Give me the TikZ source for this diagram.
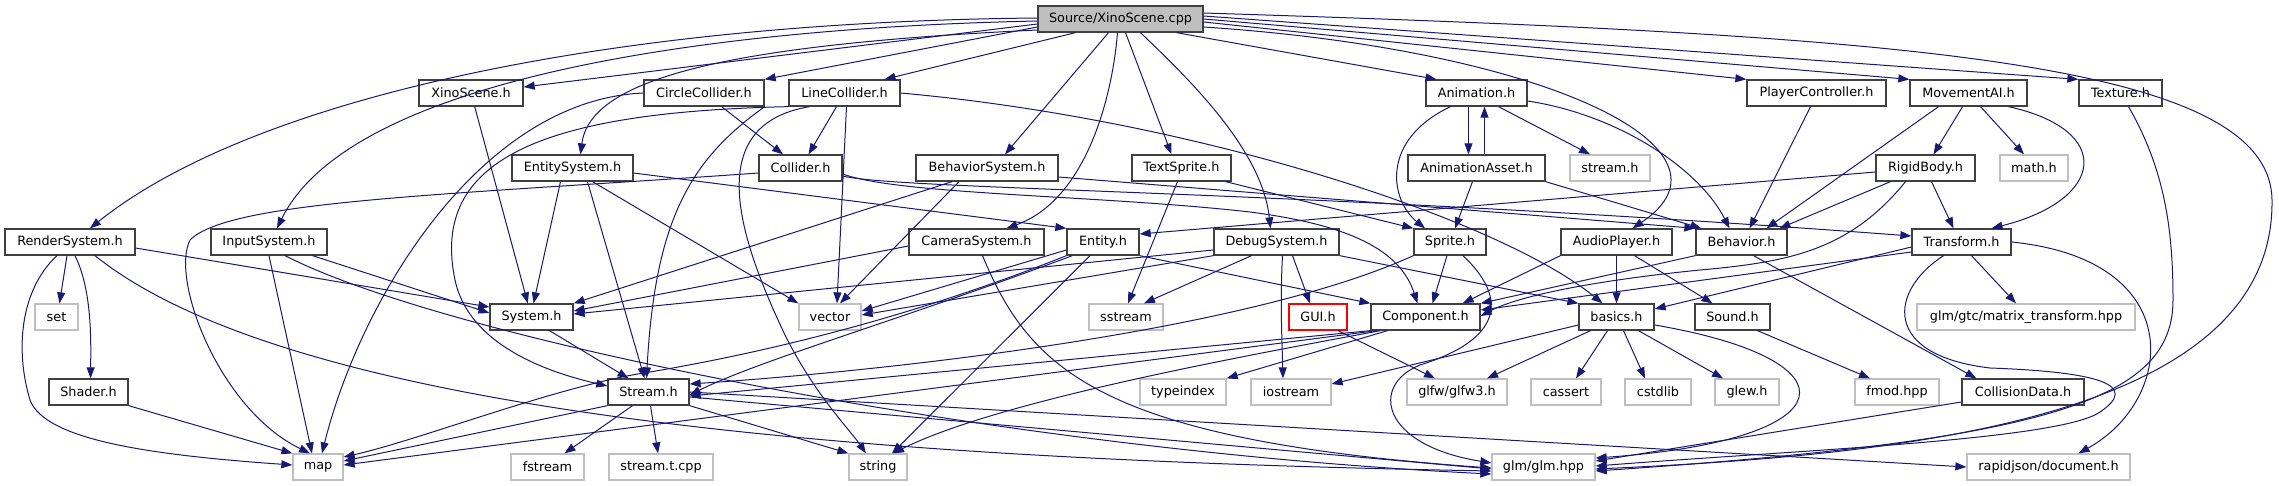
\documentclass[tikz,border=0pt]{standalone}
\usepackage{fontspec}
\setmainfont{DejaVu Sans}
\usetikzlibrary{arrows.meta}
\definecolor{edgec}{HTML}{191970}
\definecolor{nodeb}{HTML}{404040}
\definecolor{extb}{HTML}{BFBFBF}
\begin{document}
\begin{tikzpicture}[x=1pt,y=-1pt,
  nb/.style={draw=nodeb, line width=1.3pt, fill=white, minimum height=26, inner sep=0pt, font=\fontsize{12.8}{15}\selectfont, text=black},
  ext/.style={nb, draw=extb},
  srcn/.style={nb, fill=extb},
  guin/.style={nb, draw=red},
  dep/.style={draw=edgec, line width=1pt, -{Triangle[length=11pt,width=8pt]}}]
\useasboundingbox (0,0) rectangle (2279,485);
% row 0
\node[srcn, minimum width=165] (src) at (1120.5,19) {Source/XinoScene.cpp};
% row 1
\node[nb, minimum width=104] (xino) at (471,93) {XinoScene.h};
\node[nb, minimum width=120] (circ) at (704,93) {CircleCollider.h};
\node[nb, minimum width=111] (line) at (844.5,93) {LineCollider.h};
\node[nb, minimum width=101] (anim) at (1476.5,93) {Animation.h};
\node[nb, minimum width=139] (player) at (1816.5,93) {PlayerController.h};
\node[nb, minimum width=117] (move) at (1968.5,93) {MovementAI.h};
\node[nb, minimum width=83] (tex) at (2120.5,93) {Texture.h};
% row 2
\node[nb, minimum width=121] (entsys) at (572.5,168) {EntitySystem.h};
\node[nb, minimum width=83] (coll) at (800.5,168) {Collider.h};
\node[nb, minimum width=142] (behsys) at (987,168) {BehaviorSystem.h};
\node[nb, minimum width=99] (textsp) at (1181.5,168) {TextSprite.h};
\node[nb, minimum width=137] (animasset) at (1476.5,168) {AnimationAsset.h};
\node[ext, minimum width=80] (streamh) at (1610,168) {stream.h};
\node[nb, minimum width=99] (rigid) at (1925.5,168) {RigidBody.h};
\node[ext, minimum width=68] (math) at (2034,168) {math.h};
% row 3
\node[nb, minimum width=130] (render) at (70,242) {RenderSystem.h};
\node[nb, minimum width=116] (input) at (269,242) {InputSystem.h};
\node[nb, minimum width=135] (camsys) at (976.5,242) {CameraSystem.h};
\node[nb, minimum width=72] (entity) at (1103,242) {Entity.h};
\node[nb, minimum width=125] (debug) at (1276.5,242) {DebugSystem.h};
\node[nb, minimum width=72] (sprite) at (1450,242) {Sprite.h};
\node[nb, minimum width=111] (audio) at (1616.5,242) {AudioPlayer.h};
\node[nb, minimum width=91] (behav) at (1741.5,242) {Behavior.h};
\node[nb, minimum width=99] (trans) at (1961.5,242) {Transform.h};
% row 4
\node[ext, minimum width=43] (set) at (56.5,317) {set};
\node[nb, minimum width=83] (system) at (531.5,317) {System.h};
\node[ext, minimum width=62] (vector) at (830,317) {vector};
\node[ext, minimum width=74] (sstream) at (1126,317) {sstream};
\node[guin, minimum width=58] (gui) at (1318,317) {GUI.h};
\node[nb, minimum width=109] (comp) at (1425.5,317) {Component.h};
\node[nb, minimum width=75] (basics) at (1616.5,317) {basics.h};
\node[nb, minimum width=75] (sound) at (1732.5,317) {Sound.h};
\node[ext, minimum width=218] (mattr) at (2026,317) {glm/gtc/matrix\_transform.hpp};
% row 5
\node[nb, minimum width=79] (shader) at (88.5,392) {Shader.h};
\node[nb, minimum width=81] (stream) at (648.5,392) {Stream.h};
\node[ext, minimum width=86] (typeindex) at (1183,392) {typeindex};
\node[ext, minimum width=80] (iostream) at (1291,392) {iostream};
\node[ext, minimum width=100] (glfw) at (1457,392) {glfw/glfw3.h};
\node[ext, minimum width=70] (cassert) at (1566,392) {cassert};
\node[ext, minimum width=66] (cstdlib) at (1658,392) {cstdlib};
\node[ext, minimum width=64] (glew) at (1747,392) {glew.h};
\node[ext, minimum width=84] (fmod) at (1897,392) {fmod.hpp};
\node[nb, minimum width=122] (colldata) at (2023,392) {CollisionData.h};
% row 6
\node[ext, minimum width=50] (map) at (318,467) {map};
\node[ext, minimum width=73] (fstream) at (547.5,467) {fstream};
\node[ext, minimum width=104] (streamt) at (661,467) {stream.t.cpp};
\node[ext, minimum width=58] (string) at (878,467) {string};
\node[ext, minimum width=103] (glm) at (1543.5,467) {glm/glm.hpp};
\node[ext, minimum width=163] (rapid) at (2048.5,467) {rapidjson/document.h};

% ---- edges from Source/XinoScene.cpp
\draw[dep] ([yshift=1]src.west) .. controls (600,22) and (250,100) .. ([xshift=20]render.north);
\draw[dep] ([yshift=-2]src.west) .. controls (700,28) and (350,80) .. ([xshift=8]input.north);
\draw[dep] ([yshift=-5]src.west) -- ([yshift=6]xino.east);
\draw[dep] ([yshift=-8]src.west) -- (circ.north east);
\draw[dep] ([yshift=-11]src.west) .. controls (720,45) and (590,80) .. ([xshift=8]entsys.north);
\draw[dep] ([xshift=-45]src.south) -- ([xshift=40]line.north);
\draw[dep] ([xshift=-12]src.south) -- ([xshift=18]behsys.north);
\draw[dep] ([xshift=-3]src.south) .. controls (1112,100) and (1085,200) .. ([xshift=30]camsys.north);
\draw[dep] ([xshift=5]src.south) -- ([xshift=-10]textsp.north);
\draw[dep] ([xshift=20]src.south) .. controls (1190,80) and (1262,150) .. ([xshift=-6]debug.north);
\draw[dep] ([xshift=56]src.south) -- ([xshift=-40]anim.north);
\draw[dep] ([yshift=-8]src.east) .. controls (1550,50) and (1750,150) .. ([xshift=16]audio.north);
\draw[dep] ([yshift=-3]src.east) -- (player.north west);
\draw[dep] (src.east) -- (move.north west);
\draw[dep] ([yshift=3]src.east) -- (tex.north west);
\draw[dep] ([yshift=6]src.east) .. controls (1900,35) and (2270,60) .. (2272,200) .. controls (2275,420) and (1900,455) .. ([yshift=-2]glm.east);

% ---- row 1 sources
\draw[dep] (xino) -- (system);
\draw[dep] (circ) -- (coll);
\draw[dep] (circ.west) .. controls (480,100) and (360,300) .. ([xshift=4]map.north);
\draw[dep] (circ.south east) .. controls (690,160) and (655,220) .. ([xshift=-2]stream.north);
\draw[dep] (line) -- (coll);
\draw[dep] ([xshift=2]line.south) -- ([xshift=7]vector.north);
\draw[dep] ([xshift=-35]line.south) .. controls (700,125) and (740,240) .. (785,335) .. controls (815,395) and (850,430) .. ([xshift=-12]string.north);
\draw[dep] (line.south west) .. controls (540,112) and (430,160) .. (455,280) .. controls (470,350) and (560,375) .. ([yshift=6]stream.west);
\draw[dep] (line.east) .. controls (1200,120) and (1500,220) .. ([xshift=-14]basics.north);
\draw[dep] ([xshift=-8]anim.south) -- ([xshift=-8]animasset.north);
\draw[dep] ([xshift=-26]anim.south) .. controls (1380,140) and (1390,200) .. ([xshift=-25]sprite.north);
\draw[dep] ([xshift=22]anim.south) -- ([xshift=-20]streamh.north);
\draw[dep] ([yshift=-8]anim.east) .. controls (1620,115) and (1700,170) .. ([xshift=-12]behav.north);
\draw[dep] ([xshift=-6]player.south) -- ([xshift=8]behav.north);
\draw[dep] ([xshift=-30]move.south) -- ([xshift=25]behav.north);
\draw[dep] ([xshift=-6]move.south) -- ([xshift=8]rigid.north);
\draw[dep] ([xshift=12]move.south) -- ([xshift=-10]math.north);
\draw[dep] ([xshift=40]move.south) .. controls (2115,130) and (2105,200) .. ([xshift=30]trans.north);
\draw[dep] ([xshift=8]tex.south) .. controls (2165,170) and (2173,230) .. (2173,300) .. controls (2173,400) and (2050,440) .. ([yshift=-4]glm.east);

% ---- row 2 sources
\draw[dep] ([xshift=-12]entsys.south) -- ([xshift=2]system.north);
\draw[dep] ([xshift=15]entsys.south) -- ([xshift=-4]stream.north);
\draw[dep] ([xshift=20]entsys.south) -- (vector.north west);
\draw[dep] ([yshift=-5]entsys.east) -- (entity.north west);
\draw[dep] ([yshift=-5]coll.west) .. controls (450,195) and (230,200) .. (190,240) .. controls (170,280) and (220,410) .. ([xshift=-8]map.north);
\draw[dep] ([yshift=-6]coll.east) .. controls (900,195) and (1100,195) .. (1250,212) .. controls (1350,225) and (1400,250) .. ([xshift=-8]comp.north);
\draw[dep] ([yshift=-8]coll.east) .. controls (900,190) and (1300,190) .. ([yshift=6]trans.west);
\draw[dep] ([xshift=-35]behsys.south) -- (system.north east);
\draw[dep] ([xshift=-28]behsys.south) -- ([xshift=10]vector.north);
\draw[dep] ([yshift=-9]behsys.east) -- (behav.north west);
\draw[dep] ([xshift=-6]textsp.south east) -- (sprite.north west);
\draw[dep] ([xshift=-4]textsp.south) -- ([xshift=2]sstream.north);
\draw[dep] ([xshift=8]animasset.north) -- ([xshift=8]anim.south);
\draw[dep] ([xshift=-4]animasset.south) -- ([xshift=5]sprite.north);
\draw[dep] (animasset.south east) -- ([xshift=6]behav.north west);
\draw[dep] ([yshift=-4]rigid.west) -- ([yshift=8]entity.east);
\draw[dep] ([xshift=-35]rigid.south) -- ([xshift=38]behav.north);
\draw[dep] ([xshift=6]rigid.south) -- ([xshift=-8]trans.north);
\draw[dep] ([xshift=-20]rigid.south) .. controls (1850,250) and (1790,262) .. (1700,270) .. controls (1600,280) and (1520,295) .. ([yshift=1]comp.east);

% ---- row 3 sources
\draw[dep] ([xshift=-3]render.south) -- ([xshift=3]set.north);
\draw[dep] ([xshift=5]render.south) .. controls (92,290) and (91,340) .. ([xshift=2]shader.north);
\draw[dep] ([xshift=-13]render.south) .. controls (20,290) and (15,350) .. (30,400) .. controls (45,440) and (150,455) .. ([yshift=2]map.west);
\draw[dep] ([yshift=-6]render.east) -- ([yshift=10]system.west);
\draw[dep] ([xshift=25]render.south) .. controls (300,420) and (900,460) .. ([yshift=-4]glm.west);
\draw[dep] ([xshift=-15]input.south east) -- ([yshift=4]system.west);
\draw[dep] (input.south) -- ([xshift=-6]map.north);
\draw[dep] ([xshift=16]input.south) .. controls (450,340) and (1000,450) .. ([yshift=-7]glm.west);
\draw[dep] ([yshift=-4]camsys.west) -- ([yshift=6]system.east);
\draw[dep] ([xshift=6]camsys.south) .. controls (1030,370) and (1100,440) .. ([yshift=-1]glm.west);
\draw[dep] ([xshift=6]entity.south west) .. controls (900,320) and (760,360) .. ([yshift=-3]stream.east);
\draw[dep] (entity.south west) .. controls (880,330) and (720,360) .. (650,372) .. controls (560,385) and (420,440) .. ([yshift=10]map.east);
\draw[dep] ([yshift=-8]entity.west) -- ([yshift=6]vector.east);
\draw[dep] ([xshift=-13]entity.south) -- ([xshift=14]string.north);
\draw[dep] (entity.south east) -- (comp.north west);
\draw[dep] ([yshift=-8]debug.west) -- ([yshift=3]system.east);
\draw[dep] (debug.south west) -- ([yshift=2]vector.east);
\draw[dep] ([xshift=-25]debug.south) -- ([xshift=18]sstream.north);
\draw[dep] ([xshift=16]debug.south) -- ([xshift=-8]gui.north);
\draw[dep] ([xshift=6]debug.south) .. controls (1280,300) and (1282,340) .. ([xshift=-8]iostream.north);
\draw[dep] (debug.south east) -- (basics.north west);
\draw[dep] ([xshift=-3]sprite.south) -- ([xshift=7]comp.north);
\draw[dep] (sprite.south west) .. controls (1250,330) and (900,370) .. ([yshift=8]stream.east);
\draw[dep] ([xshift=13]sprite.south) .. controls (1510,300) and (1500,340) .. (1420,365) .. controls (1370,385) and (1380,445) .. ([yshift=4]glm.west);
\draw[dep] (audio.south west) -- ([xshift=-18]comp.north east);
\draw[dep] (audio.south) -- (basics.north);
\draw[dep] ([xshift=18]audio.south) -- ([xshift=-20]sound.north);
\draw[dep] (behav.south west) -- (comp.north east);
\draw[dep] ([xshift=12]behav.south) -- ([xshift=15]colldata.north west);
\draw[dep] ([xshift=10]trans.south) -- ([xshift=-10]mattr.north);
\draw[dep] ([yshift=-5]trans.west) -- ([yshift=8]basics.east);
\draw[dep] ([yshift=-10]trans.west) -- ([yshift=7]comp.east);
\draw[dep] (trans.east) .. controls (2190,260) and (2175,400) .. ([xshift=30]rapid.north);
\draw[dep] ([xshift=-18]trans.south) .. controls (1890,290) and (1880,355) .. (1990,368) .. controls (2100,372) and (2140,385) .. (2100,412) .. controls (2060,440) and (1800,450) .. ([yshift=1]glm.east);

% ---- row 4 sources
\draw[dep] ([xshift=18]system.south) -- ([xshift=-20]stream.north);
\draw[dep] ([xshift=20]gui.south) -- ([xshift=-22]glfw.north);
\draw[dep] (comp.south west) -- ([yshift=-4]stream.east);
\draw[dep] ([xshift=6]comp.south west) -- ([yshift=2]map.east);
\draw[dep] ([xshift=10]comp.south west) .. controls (1250,355) and (1000,400) .. ([xshift=15]string.north);
\draw[dep] ([xshift=-38]comp.south) -- (typeindex.north east);
\draw[dep] ([xshift=-9]basics.south) -- ([xshift=10]cassert.north);
\draw[dep] ([xshift=7]basics.south) -- ([xshift=-13]cstdlib.north);
\draw[dep] ([xshift=22]basics.south) -- ([xshift=-24]glew.north);
\draw[dep] ([xshift=-26]basics.south) -- ([xshift=30]glfw.north);
\draw[dep] ([yshift=-8]basics.west) -- ([yshift=8]iostream.east);
\draw[dep] ([yshift=-8]basics.east) .. controls (1860,360) and (1850,440) .. ([yshift=9]glm.east);
\draw[dep] ([xshift=25]sound.south) -- ([xshift=-27]fmod.north);

% ---- row 5 sources
\draw[dep] (shader.south east) -- (map.north west);
\draw[dep] ([xshift=-16]stream.south) -- ([xshift=17]fstream.north);
\draw[dep] ([xshift=2]stream.south) -- ([xshift=-3]streamt.north);
\draw[dep] (stream.south east) -- (string.north west);
\draw[dep] (stream.south west) -- ([yshift=6]map.east);
\draw[dep] ([yshift=-5]stream.east) -- ([yshift=-2]glm.west);
\draw[dep] (stream.east) -- (rapid.west);
\draw[dep] ([yshift=-10]colldata.west) -- ([yshift=6]glm.east);
\end{tikzpicture}
\end{document}
